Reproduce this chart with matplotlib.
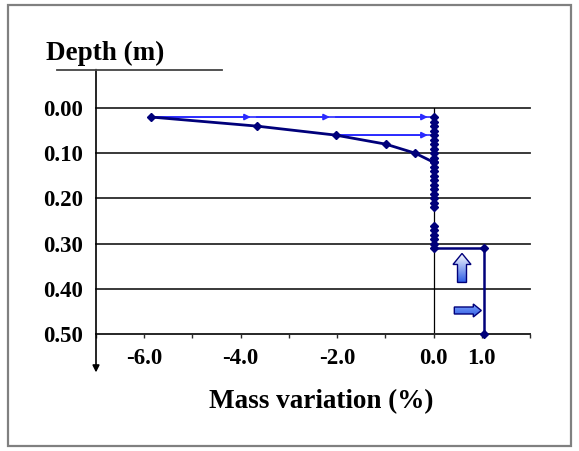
import matplotlib.pyplot as plt
import matplotlib.transforms as mtransforms
from matplotlib.patches import Polygon, Rectangle
from matplotlib.colors import LinearSegmentedColormap
import numpy as np

# profile near the surface (depth in m, mass variation in %)
depth_profile = [0.02, 0.04, 0.06, 0.08, 0.10, 0.12]
mass_profile = [-5.86, -3.67, -2.03, -0.99, -0.38, 0.0]

# points sitting on the zero line
depth_column = [0.02, 0.03, 0.04, 0.05, 0.06, 0.07, 0.08, 0.09, 0.10, 0.11,
                0.12, 0.13, 0.14, 0.15, 0.16, 0.17, 0.18, 0.19, 0.20, 0.21, 0.22]
mass_column = [0.0, 0.0, 0.0, 0.0, 0.0, 0.0, 0.0, 0.0, 0.0, 0.0,
               0.0, 0.0, 0.0, 0.0, 0.0, 0.0, 0.0, 0.0, 0.0, 0.0, 0.0]

# lower part, step to the right
depth_lower = [0.26, 0.27, 0.28, 0.29, 0.30, 0.31, 0.31, 0.50]
mass_lower = [0.0, 0.0, 0.0, 0.0, 0.0, 0.0, 1.05, 1.05]

# successive positions shown by the blue arrows
arrow_rows = [0.02, 0.06]
arrow_steps = [[-5.86, -3.67, -2.03, 0.0], [-2.03, 0.0]]

depth_ticks = [0.0, 0.1, 0.2, 0.3, 0.4, 0.5]
mass_ticks = [-7, -6, -5, -4, -3, -2, -1, 0, 1, 2]
mass_labels = ['', '-6.0', '', '-4.0', '', '-2.0', '', '0.0', '1.0', '']

navy = '#00007a'
blue = '#2a2aff'
serif = ['Liberation Serif', 'DejaVu Serif']

fig = plt.figure(figsize=(5.79, 4.51), dpi=100)
ax = fig.add_axes([96 / 579, 1 - 334 / 451, 434 / 579, 226 / 451])

ax.set_xlim(-7, 2)
ax.set_ylim(0.5, 0.0)

for d in depth_ticks:
    ax.axhline(d, color='#2a2a2a', lw=1.3, zorder=1, clip_on=False)
ax.axvline(0, color='black', lw=0.9, zorder=1)

# blue arrows
for row, steps in zip(arrow_rows, arrow_steps):
    ax.plot(steps, [row] * len(steps), color=blue, lw=1.2, zorder=2)
    for a, b in zip(steps[:-1], steps[1:]):
        ax.annotate('', xy=(b - 0.12, row), xytext=(a, row),
                    arrowprops=dict(arrowstyle='-|>', color=blue, lw=1.2,
                                    mutation_scale=9, shrinkA=0, shrinkB=0),
                    zorder=3)

ax.plot(mass_column, depth_column, color=navy, lw=1.8, marker='D', ms=4.3,
        zorder=4)
ax.plot(mass_profile, depth_profile, color=navy, lw=2, marker='D', ms=4.3,
        zorder=4)
ax.plot(mass_lower, depth_lower, color=navy, lw=1.8, marker='D', ms=4.3,
        zorder=4, clip_on=False)

for s in ['top', 'right', 'left']:
    ax.spines[s].set_visible(False)
ax.spines['bottom'].set_color('#2a2a2a')
ax.spines['bottom'].set_linewidth(1.3)

ax.set_xticks(mass_ticks)
ax.set_xticklabels(mass_labels)
ax.set_yticks(depth_ticks)
ax.set_yticklabels([f'{d:.2f}' for d in depth_ticks])
ax.tick_params(axis='x', length=3, width=1, color='#2a2a2a', pad=7)
ax.tick_params(axis='y', length=0, pad=9)
for lab in ax.get_xticklabels() + ax.get_yticklabels():
    lab.set_family(serif)
    lab.set_fontweight('bold')
    lab.set_fontsize(16.5)

# vertical axis with arrow
ax.annotate('', xy=(0, -0.17), xytext=(0, 1.17), xycoords='axes fraction',
            arrowprops=dict(arrowstyle='-|>', color='black', lw=1.2,
                            mutation_scale=10, shrinkA=0, shrinkB=0),
            annotation_clip=False)

ax.set_xlabel('Mass variation (%)', family=serif, fontweight='bold',
              fontsize=19.5)
ax.xaxis.set_label_coords(321 / 579, 1 - 402 / 451, transform=fig.transFigure)
ax.xaxis.label.set_va('center')
fig.text(46 / 579, 1 - 53 / 451, 'Depth (m)', family=serif, fontweight='bold',
         fontsize=19.5, va='center', ha='left')
fig.add_artist(plt.Line2D([57 / 579, 222 / 579], [1 - 70 / 451, 1 - 70 / 451],
                          color='#444444', lw=1.3))

# frame around the chart
fig.add_artist(Rectangle((8 / 579, 1 - 446 / 451), 563 / 579, 441 / 451,
                         fill=False, edgecolor='#808080', lw=1.6))


def block_arrow(x, y, pts, c_top, c_bottom):
    # pts in pixels, relative to the anchor (x, y) in data coords
    trans = mtransforms.Affine2D().scale(1 / 100) + fig.dpi_scale_trans + \
        mtransforms.ScaledTranslation(x, y, ax.transData)
    poly = Polygon(pts, closed=True, transform=trans, facecolor='none',
                   edgecolor=navy, lw=1.0, zorder=6)
    ax.add_patch(poly)
    xs = [p[0] for p in pts]
    ys = [p[1] for p in pts]
    cmap = LinearSegmentedColormap.from_list('g', [c_top, c_bottom])
    grad = np.linspace(0, 1, 64).reshape(-1, 1)
    im = ax.imshow(grad, cmap=cmap, aspect='auto', origin='upper',
                   extent=(min(xs), max(xs), min(ys), max(ys)),
                   transform=trans, zorder=5)
    im.set_clip_path(poly)


up_pts = [(-4.5, -14), (4.5, -14), (4.5, 4), (9, 4), (0, 15), (-9, 4),
          (-4.5, 4)]
right_pts = [(-13, -3.5), (6, -3.5), (6, -6.5), (14, 0), (6, 6.5), (6, 3.5),
             (-13, 3.5)]
block_arrow(0.59, 0.355, up_pts, '#ffffff', '#2f5fe6')
block_arrow(0.70, 0.448, right_pts, '#7fa6ff', '#2f5ae0')

ax.set_xlim(-7, 2)
ax.set_ylim(0.5, 0.0)

fig.savefig('out.png', dpi=100)
plt.close()
